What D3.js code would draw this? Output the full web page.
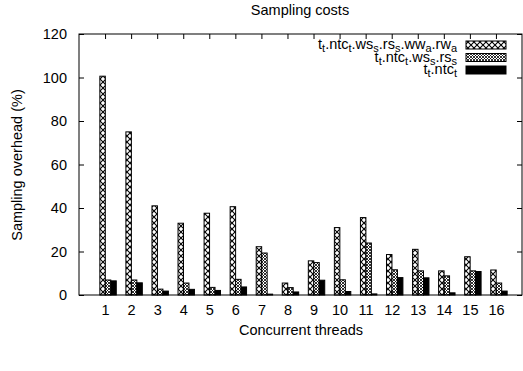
<!DOCTYPE html>
<html>
<head>
<meta charset="utf-8">
<script src="https://cdn.jsdelivr.net/npm/d3@7"></script>
<style>
  body { margin: 0; background: #fff; }
  svg { display: block; font-family: "Liberation Sans", Arial, sans-serif; }
</style>
</head>
<body>
<div id="chart"></div>
<script>
// Data
const threads = [1, 2, 3, 4, 5, 6, 7, 8, 9, 10, 11, 12, 13, 14, 15, 16]
const full = [100.6, 75, 41, 33, 37.6, 40.6, 22.2, 5.5, 15.7, 31, 35.6, 18.6, 21, 11.1, 17.6, 11.5]
const noWrite = [6.9, 6.9, 2.7, 5.5, 3.5, 7.2, 19.3, 3.4, 14.9, 7, 23.9, 11.6, 11.1, 8.8, 11.1, 5.5]
const base = [6.5, 5.6, 1.8, 2.6, 2.1, 3.7, 0.4, 1.4, 6.8, 1.6, 0.5, 8, 7.9, 1, 10.8, 1.8]
const yTicks = [0, 20, 40, 60, 80, 100, 120]

const W = 523, H = 371
const margin = { top: 34, right: 1, bottom: 76, left: 79 }
const innerW = W - margin.left - margin.right
const innerH = H - margin.top - margin.bottom
const fontSize = 14.5

const svg = d3.select('#chart').append('svg')
  .attr('width', W)
  .attr('height', H)

// Fill patterns (gnuplot style)
const defs = svg.append('defs')
const p1 = defs.append('pattern')
  .attr('id', 'hatchX').attr('patternUnits', 'userSpaceOnUse')
  .attr('width', 6).attr('height', 6)
p1.append('rect').attr('width', 6).attr('height', 6).attr('fill', '#fff')
p1.append('path').attr('d', 'M0,0 L6,6 M6,0 L0,6')
  .attr('stroke', '#000').attr('stroke-width', 1.1)

const p2 = defs.append('pattern')
  .attr('id', 'hatchD').attr('patternUnits', 'userSpaceOnUse')
  .attr('width', 3).attr('height', 3)
p2.append('rect').attr('width', 3).attr('height', 3).attr('fill', '#fff')
p2.append('path').attr('d', 'M0,0 L3,3 M3,0 L0,3')
  .attr('stroke', '#000').attr('stroke-width', 0.8)

const series = [
  { values: full, fill: 'url(#hatchX)' },
  { values: noWrite, fill: 'url(#hatchD)' },
  { values: base, fill: '#000' },
]

const g = svg.append('g').attr('transform', `translate(${margin.left},${margin.top})`)

const x = d3.scaleLinear().domain([0, 17]).range([0, innerW])
const y = d3.scaleLinear().domain([0, 120]).range([innerH, 0])

const barW = 0.21 // in x units
const barStart = -0.2

// Bars
series.forEach((s, si) => {
  g.selectAll(null)
    .data(threads)
    .enter().append('rect')
    .attr('x', (d, i) => x(d + barStart + si * barW))
    .attr('y', (d, i) => y(s.values[i]))
    .attr('width', x(barW) - x(0))
    .attr('height', (d, i) => innerH - y(s.values[i]))
    .attr('fill', s.fill)
    .attr('stroke', '#000')
    .attr('stroke-width', 1)
})

// Axes (ticks inward, mirrored)
const axisL = g.append('g')
  .call(d3.axisLeft(y).tickValues(yTicks).tickSize(-5).tickPadding(12))
const axisR = g.append('g').attr('transform', `translate(${innerW},0)`)
  .call(d3.axisRight(y).tickValues(yTicks).tickSize(-5).tickFormat(''))
const axisB = g.append('g').attr('transform', `translate(0,${innerH})`)
  .call(d3.axisBottom(x).tickValues(threads).tickSize(-5).tickPadding(10))
const axisT = g.append('g')
  .call(d3.axisTop(x).tickValues(threads).tickSize(-5).tickFormat(''))

;[axisL, axisR, axisB, axisT].forEach(a => {
  a.select('.domain').remove()
  a.selectAll('.tick line').attr('stroke', '#000')
  a.selectAll('text').attr('font-size', fontSize).attr('fill', '#000')
    .style('font-family', '"Liberation Sans", Arial, sans-serif')
})

// Frame
g.append('rect')
  .attr('width', innerW).attr('height', innerH)
  .attr('fill', 'none').attr('stroke', '#000').attr('stroke-width', 1)

// Titles
svg.append('text')
  .attr('x', 300).attr('y', 15)
  .attr('text-anchor', 'middle').attr('font-size', fontSize)
  .text('Sampling costs')

svg.append('text')
  .attr('x', 301).attr('y', 335)
  .attr('text-anchor', 'middle').attr('font-size', fontSize)
  .text('Concurrent threads')

svg.append('text')
  .attr('transform', 'translate(22,165) rotate(-90)')
  .attr('text-anchor', 'middle').attr('font-size', fontSize)
  .text('Sampling overhead (%)')

// Legend
const legendLabels = [
  [['t', ''], ['t', 'sub'], ['.ntc', ''], ['t', 'sub'], ['.ws', ''], ['s', 'sub'], ['.rs', ''], ['s', 'sub'], ['.ww', ''], ['a', 'sub'], ['.rw', ''], ['a', 'sub']],
  [['t', ''], ['t', 'sub'], ['.ntc', ''], ['t', 'sub'], ['.ws', ''], ['s', 'sub'], ['.rs', ''], ['s', 'sub']],
  [['t', ''], ['t', 'sub'], ['.ntc', ''], ['t', 'sub']],
]
const legend = svg.append('g')
legendLabels.forEach((parts, i) => {
  const ly = 45 + i * 12.5
  const t = legend.append('text')
    .attr('x', 457).attr('y', ly + 4)
    .attr('text-anchor', 'end').attr('font-size', fontSize)
  parts.forEach(([txt, kind], k) => {
    const ts = t.append('tspan').text(txt)
    if (kind === 'sub') ts.attr('font-size', 11).attr('dy', 3)
    else ts.attr('dy', k > 0 ? -3 : 0)
  })
  legend.append('rect')
    .attr('x', 466).attr('y', ly - 4)
    .attr('width', 40).attr('height', 8)
    .attr('fill', series[i].fill)
    .attr('stroke', '#000')
})
</script>
</body>
</html>
